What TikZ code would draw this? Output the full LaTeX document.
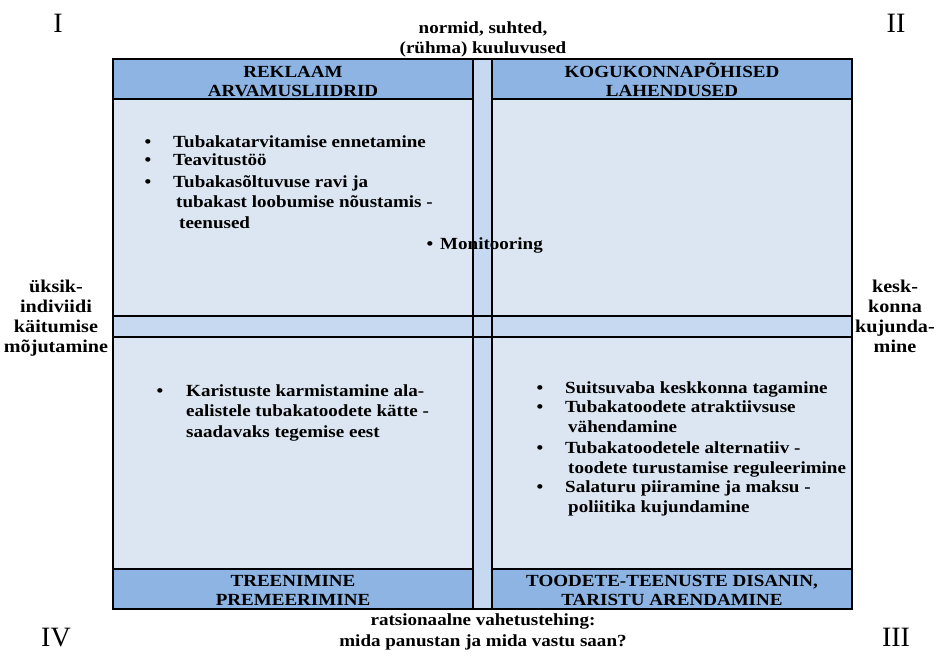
\documentclass[tikz,border=0pt]{standalone}
\usepackage{fontspec}
\setmainfont{Liberation Serif}
\newfontfamily\widefont{Liberation Serif}[FakeStretch=1.12]
\definecolor{bandblue}{HTML}{8EB4E3}
\definecolor{cellblue}{HTML}{DCE6F2}
\definecolor{stripblue}{HTML}{C6D9F1}

\begin{document}
\begin{tikzpicture}[x=1pt, y=-1pt, line cap=round,
    rule/.style={draw=black, line width=2pt},
    txt/.style={inner sep=0pt, align=left, font=\widefont\bfseries\fontsize{17}{20.5}\selectfont},
    head/.style={inner sep=0pt, align=center, font=\widefont\bfseries\fontsize{17}{18.5}\selectfont},
    side/.style={inner sep=0pt, align=center, font=\widefont\bfseries\fontsize{18}{20}\selectfont},
    numeral/.style={inner sep=0pt, font=\fontsize{28}{28}\selectfont}]

    \useasboundingbox (0,0) rectangle (936,657);

    \fill [cellblue] (113,59) rectangle (852,609);
    \fill [bandblue] (113,59) rectangle (473,99);
    \fill [bandblue] (492,59) rectangle (852,99);
    \fill [bandblue] (113,569) rectangle (473,609);
    \fill [bandblue] (492,569) rectangle (852,609);
    \fill [stripblue] (473,59) rectangle (492,609);
    \fill [stripblue] (113,316) rectangle (852,337);

    \draw [rule] (473,59) -- (473,609);
    \draw [rule] (492,59) -- (492,609);
    \draw [rule] (113,316) -- (852,316);
    \draw [rule] (113,337) -- (852,337);
    \draw [rule] (113,99) -- (473,99) (492,99) -- (852,99);
    \draw [rule] (113,569) -- (473,569) (492,569) -- (852,569);
    \draw [rule] (113,59) rectangle (852,609);

    % corner numbers
    \node [numeral, anchor=base] (one) at (58,32) {I};
    \node [numeral, anchor=base] (two) at (896,32) {II};
    \node [numeral, anchor=base] (three) at (896,646) {III};
    \node [numeral, anchor=base] (four) at (56,646) {IV};

    % axis texts (base = last line)
    \node [head, anchor=base] (norms) at (483,53) {normid, suhted,\\[1.5pt](rühma) kuuluvused};
    \node [head, anchor=base] (exchange) at (483,646) {ratsionaalne vahetustehing:\\[2.5pt]mida panustan ja mida vastu saan?};
    \node [side, anchor=base] (single) at (56,352) {üksik-\\indiviidi\\käitumise\\mõjutamine};
    \node [side, anchor=base] (envir) at (895,352) {kesk-\\konna\\kujunda-\\mine};

    % band titles
    \node [head, anchor=base] (adverts) at (293,96) {REKLAAM\\ARVAMUSLIIDRID};
    \node [head, anchor=base] (community) at (672,96) {KOGUKONNAPÕHISED\\LAHENDUSED};
    \node [head, anchor=base] (training) at (293,605) {TREENIMINE\\PREMEERIMINE};
    \node [head, anchor=base] (design) at (672,605) {TOODETE-TEENUSTE DISANIN,\\TARISTU ARENDAMINE};

    % quadrant I
    \node [txt, anchor=base] (b1) at (148,147) {•};
    \node [txt, anchor=base west] (prevent) at (173,147) {Tubakatarvitamise ennetamine};
    \node [txt, anchor=base] (b2) at (148,165) {•};
    \node [txt, anchor=base west] (inform) at (173,165) {Teavitustöö};
    \node [txt, anchor=base] (b3) at (148,187) {•};
    \node [txt, anchor=base west] (treat) at (173,228) {Tubakasõltuvuse ravi ja\\\hspace{3pt}tubakast loobumise nõustamis -\\\hspace{6pt}teenused};
    \node [txt, anchor=base] (b4) at (430,249) {•};
    \node [txt, anchor=base west] (monitor) at (440,249) {Monitooring};

    % quadrant IV
    \node [txt, anchor=base] (b5) at (160,396) {•};
    \node [txt, anchor=base west] (punish) at (186,437) {Karistuste karmistamine ala-\\ealistele tubakatoodete kätte -\\saadavaks tegemise eest};

    % quadrant III
    \node [txt, anchor=base] (b6) at (540,393) {•};
    \node [txt, anchor=base west] (smokefree) at (565,393) {Suitsuvaba keskkonna tagamine};
    \node [txt, anchor=base] (b7) at (540,412) {•};
    \node [txt, anchor=base west] (appeal) at (565,432.5) {Tubakatoodete atraktiivsuse\\\hspace{3pt}vähendamine};
    \node [txt, anchor=base] (b8) at (540,453) {•};
    \node [txt, anchor=base west] (altern) at (565,473.5) {Tubakatoodetele alternatiiv -\\\hspace{3pt}toodete turustamise reguleerimine};
    \node [txt, anchor=base] (b9) at (540,492) {•};
    \node [txt, anchor=base west] (illicit) at (565,512.5) {Salaturu piiramine ja maksu -\\\hspace{3pt}poliitika kujundamine};

\end{tikzpicture}
\end{document}
